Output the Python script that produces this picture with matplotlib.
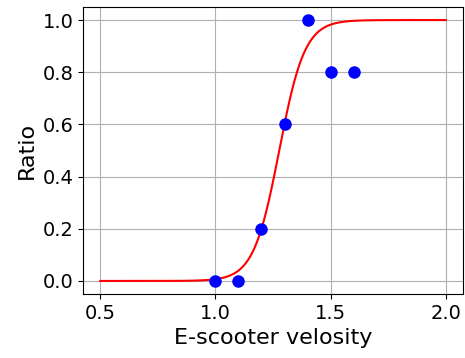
import numpy as np
import matplotlib
matplotlib.use("Agg")
import matplotlib.pyplot as plt

velocity = [1.0, 1.1, 1.2, 1.3, 1.4, 1.5, 1.6]
ratio = [0.0, 0.0, 0.2, 0.6, 1.0, 0.8, 0.8]
# fitted logistic parameters
k = 18.0
x0 = 1.277

xs = np.linspace(0.5, 2.0, 300)
ys = 1 / (1 + np.exp(-k * (xs - x0)))

fig = plt.figure(figsize=(4.65, 3.58), dpi=100)
ax = fig.add_axes([83/465, 1 - 294/358, 380/465, 287/358])
ax.plot(xs, ys, color='red', lw=1.5, zorder=2)
ax.plot(velocity, ratio, 'o', color='blue', ms=8, zorder=3)
ax.grid(True, color='#b0b0b0', lw=0.8)
ax.set_axisbelow(True)
ax.set_xticks([0.5, 1.0, 1.5, 2.0])
ax.set_yticks([0.0, 0.2, 0.4, 0.6, 0.8, 1.0])
ax.tick_params(labelsize=14)
ax.set_xlabel('E-scooter velosity', fontsize=16)
ax.set_ylabel('Ratio', fontsize=16)
fig.savefig('out.png', dpi=100)
